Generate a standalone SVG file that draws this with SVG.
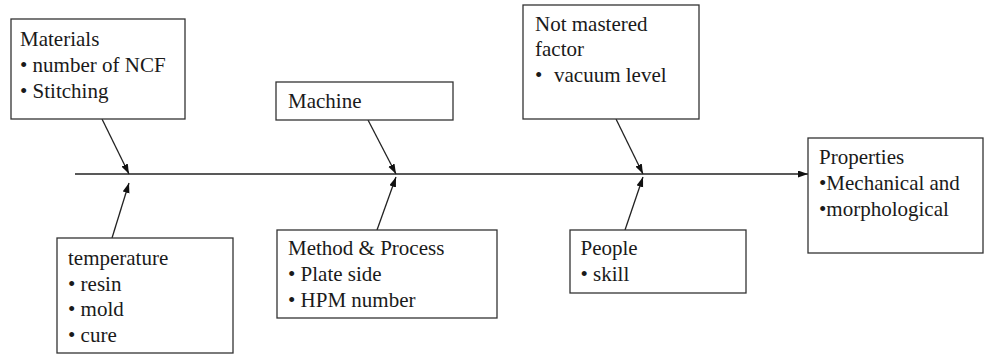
<svg xmlns="http://www.w3.org/2000/svg" width="984" height="356" viewBox="0 0 984 356">
<defs>
<marker id="ah" markerUnits="userSpaceOnUse" markerWidth="11" markerHeight="8" refX="10" refY="3.5" orient="auto">
<path d="M0,0 L10,3.5 L0,7 z" fill="#111"/>
</marker>
<style>
.box{fill:#fff;stroke:#333;stroke-width:1.3}
.c{stroke:#222;stroke-width:1.3;fill:none;marker-end:url(#ah)}
text{font-family:'Liberation Serif','Times New Roman',serif;font-size:21px;fill:#1a1a1a}
</style>
</defs>
<rect width="984" height="356" fill="#fff"/>
<g id="connectors">
<line class="c" x1="75" y1="174" x2="808" y2="174"/>
<line class="c" x1="102" y1="119" x2="129" y2="174"/>
<line class="c" x1="112" y1="238" x2="129" y2="183"/>
<line class="c" x1="368" y1="120" x2="396" y2="174"/>
<line class="c" x1="377" y1="230" x2="396" y2="177"/>
<line class="c" x1="616" y1="119" x2="643" y2="174"/>
<line class="c" x1="625" y1="230" x2="643" y2="177"/>
</g>
<g id="materials">
<rect class="box" x="11" y="19" width="174" height="100"/>
<text font-family="Liberation Serif" font-size="21"><tspan x="20" y="46">Materials</tspan><tspan x="20" y="72">• number of NCF</tspan><tspan x="20" y="98">• Stitching</tspan></text>
</g>
<g id="machine">
<rect class="box" x="276" y="82" width="177" height="38"/>
<text font-family="Liberation Serif" font-size="21" x="288" y="108">Machine</text>
</g>
<g id="not-mastered">
<rect class="box" x="523" y="5" width="176" height="114"/>
<text font-family="Liberation Serif" font-size="21"><tspan x="535" y="31">Not mastered</tspan><tspan x="535" y="56">factor</tspan><tspan x="535" y="82">•</tspan><tspan x="554" y="82">vacuum level</tspan></text>
</g>
<g id="properties">
<rect class="box" x="808" y="138" width="175" height="115"/>
<text font-family="Liberation Serif" font-size="21"><tspan x="819" y="164">Properties</tspan><tspan x="819" y="190">•Mechanical and</tspan><tspan x="819" y="216">•morphological</tspan></text>
</g>
<g id="temperature">
<rect class="box" x="57" y="238" width="176" height="115"/>
<text font-family="Liberation Serif" font-size="21"><tspan x="68" y="265">temperature</tspan><tspan x="68" y="290.5">• resin</tspan><tspan x="68" y="316">• mold</tspan><tspan x="68" y="341.5">• cure</tspan></text>
</g>
<g id="method">
<rect class="box" x="277" y="230" width="220" height="88"/>
<text font-family="Liberation Serif" font-size="21"><tspan x="288" y="255">Method &amp; Process</tspan><tspan x="288" y="281">• Plate side</tspan><tspan x="288" y="307">• HPM number</tspan></text>
</g>
<g id="people">
<rect class="box" x="570" y="230" width="176" height="63"/>
<text font-family="Liberation Serif" font-size="21"><tspan x="580.5" y="255">People</tspan><tspan x="580.5" y="281">• skill</tspan></text>
</g>
</svg>
